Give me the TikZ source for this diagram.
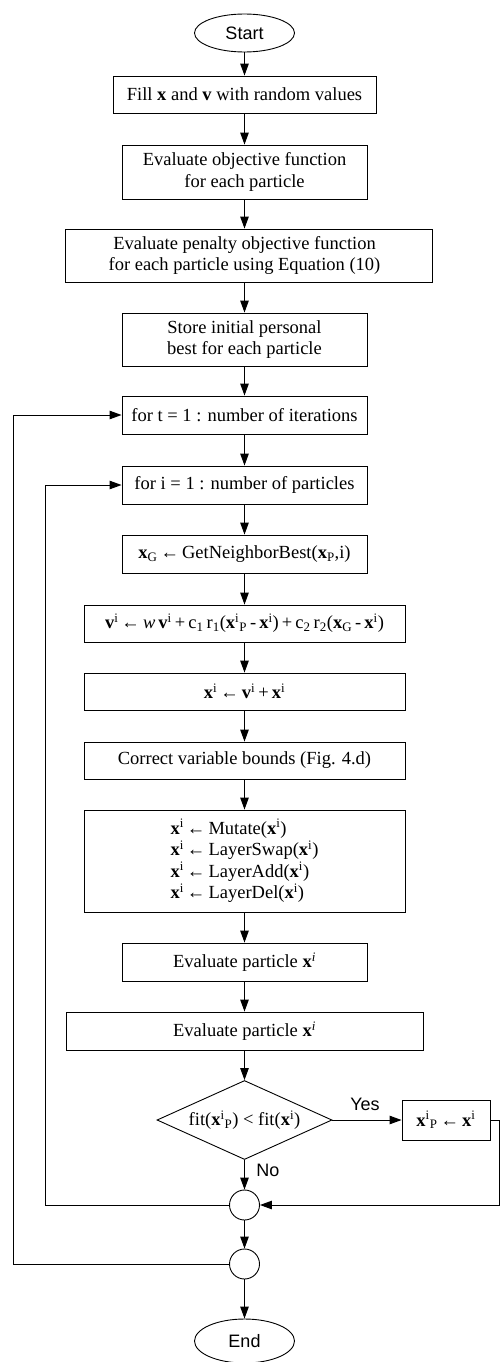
\documentclass[tikz,border=0pt]{standalone}
\usepackage{fontspec}
\setmainfont{Liberation Serif}
\newfontfamily\labelfont{Liberation Sans}
\usetikzlibrary{shapes.geometric,arrows.meta}

% vector symbols and small indices in running text
\newcommand{\vb}[1]{\textbf{#1}}
\newcommand{\sps}[1]{\textsuperscript{#1}}
\newcommand{\sbs}[1]{\textsubscript{#1}}

\begin{document}
\begin{tikzpicture}[x=1pt,y=-1pt,
  font=\fontsize{18.5}{21.5}\selectfont,
  box/.style={draw, line width=0.9pt, rectangle, inner sep=0pt, align=center},
  term/.style={draw, ellipse, line width=0.9pt, inner sep=0pt,
    minimum width=100pt, font={\labelfont\fontsize{18}{21}\selectfont}},
  junction/.style={draw, circle, line width=0.9pt, inner sep=0pt, minimum size=30pt},
  decision/.style={draw, diamond, aspect=2.215, line width=0.9pt, inner sep=0pt,
    minimum width=175pt, minimum height=79pt},
  lbl/.style={font={\labelfont\fontsize{18}{21}\selectfont}, inner sep=0pt},
  flow/.style={line width=1pt, -{Triangle[length=12pt,width=8.5pt]}},
]
\useasboundingbox (0,0) rectangle (501,1362);

% main column
\node[term, minimum height=38pt] (start) at (244.5,33) {Start};
\node[box, minimum width=263pt, minimum height=37pt] (b1) at (244.5,94.5)
  {Fill \vb{x} and \vb{v} with random values};
\node[box, minimum width=245pt, minimum height=54pt] (b2) at (244.5,172)
  {Evaluate objective function\\for each particle};
\node[box, minimum width=367pt, minimum height=53pt] (b3) at (248.5,255.5)
  {\hspace*{-8pt}Evaluate penalty objective function\\\hspace*{-8pt}for each particle using Equation (10)};
\node[box, minimum width=245pt, minimum height=53pt] (b4) at (244.5,339.5)
  {Store initial personal\\best for each particle};
\node[box, minimum width=245pt, minimum height=38pt] (b5) at (244.5,415)
  {for t = 1 : number of iterations};
\node[box, minimum width=245pt, minimum height=38pt] (b6) at (244.5,485)
  {for i = 1 : number of particles};
\node[box, minimum width=245pt, minimum height=38pt] (b7) at (244.5,554)
  {\vb{x}\sbs{G}\,←\,GetNeighborBest(\vb{x}\sbs{P},i)};
\node[box, minimum width=321pt, minimum height=37pt] (b8) at (244.5,623.5)
  {\vb{v}\sps{i}\,←\,\textit{w}\,\vb{v}\sps{i}\,+\,c\sbs{1}\,r\sbs{1}(\vb{x}\sps{i}\sbs{P}\,-\,\vb{x}\sps{i})\,+\,c\sbs{2}\,r\sbs{2}(\vb{x}\sbs{G}\,-\,\vb{x}\sps{i})};
\node[box, minimum width=321pt, minimum height=37pt] (b9) at (244.5,691.5)
  {\vb{x}\sps{i}\,←\,\vb{v}\sps{i}\,+\,\vb{x}\sps{i}};
\node[box, minimum width=321pt, minimum height=37pt] (b10) at (244.5,760.5)
  {Correct variable bounds (Fig. 4.d)};
\node[box, minimum width=321pt, minimum height=102pt, align=left] (b11) at (244.5,861)
  {\vb{x}\sps{i}\,←\,Mutate(\vb{x}\sps{i})\\
   \vb{x}\sps{i}\,←\,LayerSwap(\vb{x}\sps{i})\\
   \vb{x}\sps{i}\,←\,LayerAdd(\vb{x}\sps{i})\\
   \vb{x}\sps{i}\,←\,LayerDel(\vb{x}\sps{i})};
\node[box, minimum width=245pt, minimum height=38pt] (b12) at (244.5,962)
  {Evaluate particle \vb{x}\sps{\textit{i}}};
\node[box, minimum width=357pt, minimum height=38pt] (b13) at (244.5,1031)
  {Evaluate particle \vb{x}\sps{\textit{i}}};
\node[decision] (dia) at (244.5,1120)
  {fit(\vb{x}\sps{i}\sbs{P}) < fit(\vb{x}\sps{i})};
\node[box, minimum width=88pt, minimum height=40pt] (upd) at (446,1120)
  {\vb{x}\sps{i}\sbs{P}\,←\,\vb{x}\sps{i}};
\node[junction] (j1) at (244.5,1205) {};
\node[junction] (j2) at (244.5,1264) {};
\node[term, minimum height=44pt] (end) at (244.5,1341) {End};

% labels on the decision branches
\node[lbl] (yes) at (365,1104) {Yes};
\node[lbl] (no) at (268,1170) {No};

% bend points of the return paths
\coordinate (rtop) at (499,1120);
\coordinate (ibot) at (45,1205);
\coordinate (itop) at (45,485);
\coordinate (tbot) at (13,1264);
\coordinate (ttop) at (13,415);

% straight flow
\draw[flow] (start) -- (b1);
\draw[flow] (b1) -- (b2);
\draw[flow] (b2) -- (b2 |- b3.north);
\draw[flow] (b4 |- b3.south) -- (b4);
\draw[flow] (b4) -- (b5);
\draw[flow] (b5) -- (b6);
\draw[flow] (b6) -- (b7);
\draw[flow] (b7) -- (b8);
\draw[flow] (b8) -- (b9);
\draw[flow] (b9) -- (b10);
\draw[flow] (b10) -- (b11);
\draw[flow] (b11) -- (b12);
\draw[flow] (b12) -- (b13);
\draw[flow] (b13) -- (dia);
\draw[flow] (dia) -- (upd);
\draw[flow] (dia) -- (j1);
\draw[flow] (upd) -- (rtop) |- (j1);
\draw[flow] (j1) -- (j2);
\draw[flow] (j2) -- (end);

% loops back to the two for-statements
\draw[flow] (j1) -- (ibot) -- (itop) -- (b6);
\draw[flow] (j2) -- (tbot) -- (ttop) -- (b5);
\end{tikzpicture}
\end{document}
